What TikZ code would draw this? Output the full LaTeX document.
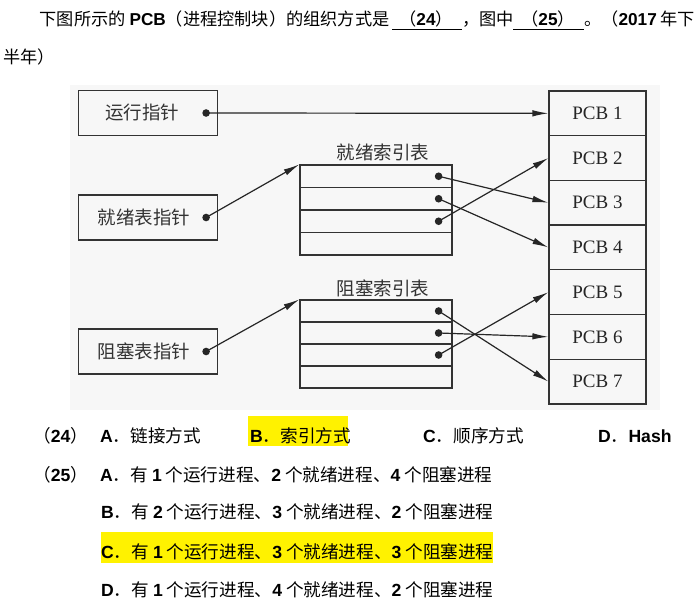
\documentclass[tikz,border=0pt]{standalone}
\usepackage{fontspec}
\setmainfont{Liberation Sans}
\newfontfamily\cjk{Noto Sans CJK SC}
\newfontfamily\latf{Liberation Sans}
\newfontfamily\pcbf{Liberation Serif}
\usetikzlibrary{positioning,arrows.meta,calc}
\newcommand{\enb}[1]{{\latf\bfseries #1}}

\begin{document}
\begin{tikzpicture}[x=1pt,y=-1pt,
    qtext/.style={font=\cjk\fontsize{17.2}{20}\selectfont, anchor=base west, inner sep=0pt},
    qmid/.style={qtext, anchor=base},
    otext/.style={qtext, font=\cjk\fontsize{17.6}{20}\selectfont},
    lbl/.style={font=\cjk\fontsize{18.5}{22}\selectfont, text=black!80, inner sep=0pt},
    ptrbox/.style={draw=black!80, line width=1.2pt, minimum width=139pt, minimum height=45pt, inner sep=0pt},
    pcbbox/.style={draw=black!80, line width=1.2pt, minimum width=97pt, minimum height=44.7pt, inner sep=0pt,
        font=\pcbf\fontsize{19}{22}\selectfont, text=black!85},
    rowbox/.style={draw=black!80, line width=1.2pt, minimum width=152pt, inner sep=0pt},
    link/.style={draw=black!85, line width=1.2pt, -{Latex[length=16pt,width=6.5pt]}},
    uline/.style={line width=0.9pt},
    hl/.style={fill=yellow}]
        \useasboundingbox (0,0) rectangle (700,609);

        % Question text
        \node[qtext] (q1) at (39.5,26) {下图所示的 \enb{PCB}（进程控制块）的组织方式是};
        \node[qmid] (b24) at (426,26) {（\enb{24}）};
        \node[qtext] (q2) at (462,26) {，图中};
        \node[qmid] (b25) at (548,26) {（\enb{25}）};
        \node[qtext] (q3) at (584,26) {。（\enb{2017} 年下};
        \node[qtext] (q4) at (3,64) {半年）};
        \draw[uline] (392,29) -- (462,29);
        \draw[uline] (513,29) -- (584,29);

        % Light background of the figure
        \fill[black!3] (70,85) rectangle (660,410);

        % Pointer boxes
        \node[ptrbox] (run) at (148,113) {};
        \node[ptrbox] (rdyptr) at (148,217.5) {};
        \node[ptrbox] (blkptr) at (148,351.5) {};
        \node[lbl] (runlbl) at ([xshift=-6pt]run.center) {运行指针};
        \node[lbl] (rdylbl) at ([xshift=-4pt]rdyptr.center) {就绪表指针};
        \node[lbl] (blklbl) at ([xshift=-4pt]blkptr.center) {阻塞表指针};

        % PCB column
        \foreach \i in {1,...,7}
            \node[pcbbox] (pcb\i) at (597.5,{91+44.7*(\i-0.5)}) {PCB \i};

        % Index tables
        \foreach \r in {1,...,4} {
            \node[rowbox, minimum height=22.5pt] (rdy\r) at (376,{165+22.5*(\r-0.5)}) {};
            \node[rowbox, minimum height=22pt] (blk\r) at (376,{300+22*(\r-0.5)}) {};
        }
        \node[lbl] (rdytitle) at (383,152) {就绪索引表};
        \node[lbl] (blktitle) at (383,288) {阻塞索引表};

        % Dots
        \coordinate (rundot) at ([xshift=-12pt]run.east);
        \coordinate (rdydot) at ([xshift=-12pt]rdyptr.east);
        \coordinate (blkdot) at ([xshift=-12pt]blkptr.east);
        \foreach \r in {1,2,3} {
            \coordinate (rd\r) at ([xshift=-14pt]rdy\r.east);
            \coordinate (bd\r) at ([xshift=-14pt]blk\r.east);
        }
        \foreach \point in {rundot,rdydot,blkdot,rd1,rd2,rd3,bd1,bd2,bd3}
            \fill[black!85] (\point) circle (3.8);

        % Pointers
        \draw[link] (rundot) -- (pcb1.west);
        \draw[link] (rdydot) -- (rdy1.north west);
        \draw[link] (blkdot) -- (blk1.north west);
        \draw[link] (rd1) -- (pcb3.west);
        \draw[link] (rd2) -- (pcb4.west);
        \draw[link] (rd3) -- (pcb2.west);
        \draw[link] (bd1) -- (pcb7.west);
        \draw[link] (bd2) -- (pcb6.west);
        \draw[link] (bd3) -- (pcb5.west);

        % Choices
        \fill[hl] (248,416) rectangle (348,446);
        \fill[hl] (101,532) rectangle (493,563);
        \node[otext] (n24) at (33,442) {（\enb{24}）};
        \node[otext] (c24a) at (100,442) {\enb{A}．链接方式};
        \node[otext] (c24b) at (250,442) {\enb{B}．索引方式};
        \node[otext] (c24c) at (423,442) {\enb{C}．顺序方式};
        \node[otext] (c24d) at (598,442) {\enb{D}．\enb{Hash}};
        \node[otext] (n25) at (33,481) {（\enb{25}）};
        \node[otext] (c25a) at (100,481) {\enb{A}．有 \enb{1} 个运行进程、\enb{2} 个就绪进程、\enb{4} 个阻塞进程};
        \node[otext] (c25b) at (101,518) {\enb{B}．有 \enb{2} 个运行进程、\enb{3} 个就绪进程、\enb{2} 个阻塞进程};
        \node[otext] (c25c) at (101,558) {\enb{C}．有 \enb{1} 个运行进程、\enb{3} 个就绪进程、\enb{3} 个阻塞进程};
        \node[otext] (c25d) at (101,596) {\enb{D}．有 \enb{1} 个运行进程、\enb{4} 个就绪进程、\enb{2} 个阻塞进程};

    \end{tikzpicture}
\end{document}
